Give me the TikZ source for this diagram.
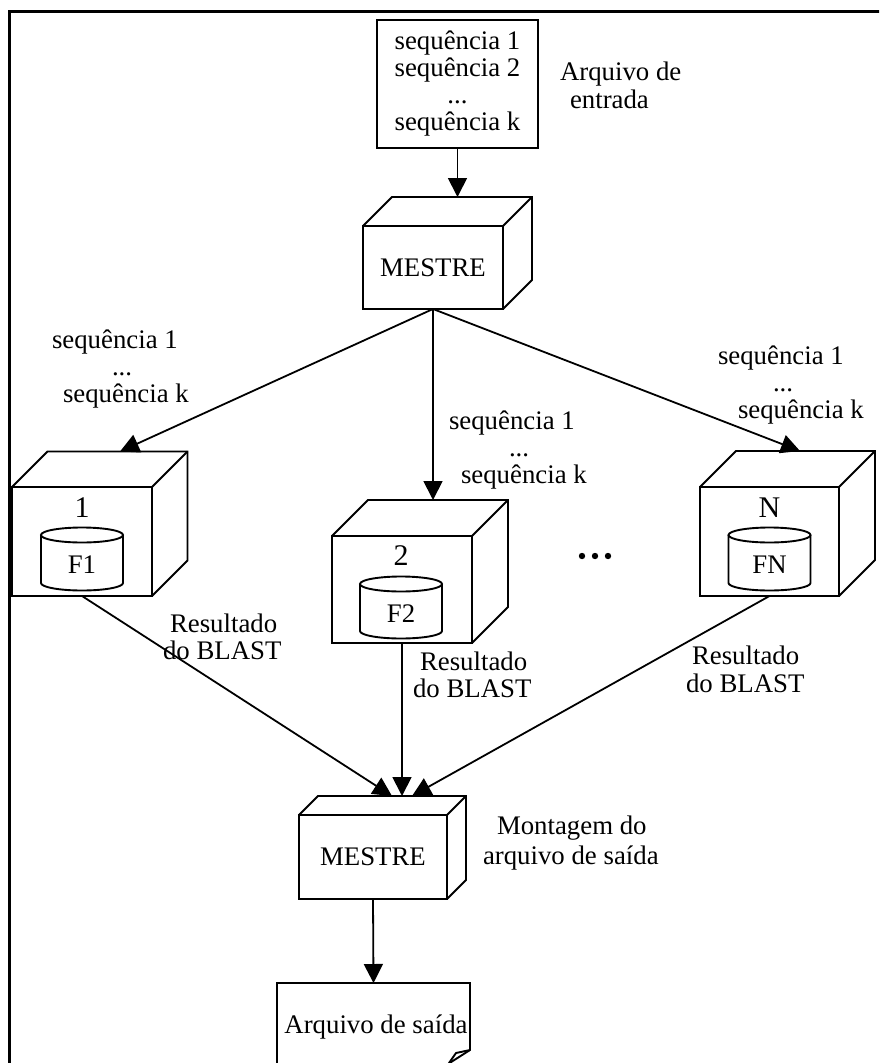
\documentclass[tikz,border=0pt]{standalone}
\usepackage{fontspec}
\setmainfont{Liberation Serif}
\usetikzlibrary{arrows.meta}

% back edges of a box drawn as a cube: #1 front face node, #2 depth
\newcommand\cubedepth[2]{%
  \draw[edge] (#1.north west) -- ++(#2,-#2) -- ([shift={(#2,-#2)}]#1.north east)
    -- ([shift={(#2,-#2)}]#1.south east) -- (#1.south east);
  \draw[edge] (#1.north east) -- ++(#2,-#2);}

% database drum: #1 centre x, #2 top cap y, #3 bottom cap y
\newcommand\drum[3]{%
  \draw[edge, fill=white] (#1-41,#2) -- (#1-41,#3)
    arc[start angle=180, end angle=0, x radius=41, y radius=7.5] -- (#1+41,#2);
  \draw[edge] (#1,#2) ellipse[x radius=41, y radius=7.5];}

\begin{document}
\begin{tikzpicture}[x=1pt, y=-1pt,
  every node/.style={font=\fontsize{26.8}{27}\selectfont, inner sep=0pt, outer sep=0pt},
  face/.style={draw, line width=1.9pt, fill=white, align=center},
  edge/.style={line width=1.9pt, line join=miter},
  arr/.style={line width=1.8pt, -{Triangle[length=19pt, width=19pt]}},
  txt/.style={anchor=base west},
  num/.style={anchor=base, font=\fontsize{30}{30}\selectfont},
  dbl/.style={anchor=base},
]
\useasboundingbox (0,0) rectangle (879,1063);
\clip (0,0) rectangle (879,1063);

% outer frame
\draw[line width=3pt] (9,1090) -- (9,11) -- (900,11);

% input file
\node[face, minimum width=161pt, minimum height=128pt] (src) at (457.5,84)
  {sequência 1\\sequência 2\\...\\sequência k};
\node[txt] (srcA) at (560,80) {Arquivo de};
\node[txt] (srcB) at (570,108) {entrada};

% master node
\node[face, minimum width=140pt, minimum height=83pt] (m1) at (433,267.5) {MESTRE};
\cubedepth{m1}{29}
\coordinate (m1top) at (457.5,197);
\draw[arr] (src.south) -- (m1top);

% worker 1
\node[face, minimum width=140pt, minimum height=109pt] (w1) at (82,541.5) {};
\cubedepth{w1}{35.5}
\node[num] (n1) at (82,517) {1};
\drum{82}{535}{583}
\node[dbl] (f1) at (82,573) {F1};

% worker 2
\node[face, minimum width=140pt, minimum height=107pt] (w2) at (402,589.5) {};
\cubedepth{w2}{36}
\node[num] (n2) at (401,565) {2};
\drum{401}{584}{631}
\node[dbl] (f2) at (401,622) {F2};

% worker N
\node[face, minimum width=139pt, minimum height=109pt] (wn) at (769.5,541.5) {};
\cubedepth{wn}{36}
\node[num] (nn) at (769.5,517) {N};
\drum{769.5}{535}{583}
\node[dbl] (fn) at (769.5,573) {FN};

% ellipsis between workers
\fill (582,556) circle[radius=3.2];
\fill (595,556) circle[radius=3.2];
\fill (608,556) circle[radius=3.2];

% distribution of sequences
\coordinate (w1top) at (120,451.5);
\coordinate (w2top) at (433,500);
\coordinate (wntop) at (800,451);
\draw[arr] (m1.south) -- (w1top);
\draw[arr] (m1.south) -- (w2top);
\draw[arr] (m1.south) -- (wntop);

\node[txt] (sa1) at (52,348) {sequência 1};
\node[txt] (sa2) at (112,375) {...};
\node[txt] (sa3) at (63,402) {sequência k};
\node[txt] (sb1) at (449,429) {sequência 1};
\node[txt] (sb2) at (509,456) {...};
\node[txt] (sb3) at (461,483) {sequência k};
\node[txt] (sc1) at (718,364) {sequência 1};
\node[txt] (sc2) at (773,391) {...};
\node[txt] (sc3) at (738,418) {sequência k};

% master collecting results
\node[face, minimum width=148pt, minimum height=84pt] (m2) at (373,857) {MESTRE};
\cubedepth{m2}{19}
\coordinate (m2a) at (392,796);
\coordinate (m2b) at (402,796);
\coordinate (m2c) at (412,796);
\draw[arr] (w1.south) -- (m2a);
\draw[arr] (w2.south) -- (m2b);
\draw[arr] (wn.south) -- (m2c);

\node[txt] (ra1) at (170,632) {Resultado};
\node[txt] (ra2) at (163,659) {do BLAST};
\node[txt] (rb1) at (420,670) {Resultado};
\node[txt] (rb2) at (413,697) {do BLAST};
\node[txt] (rc1) at (692,664) {Resultado};
\node[txt] (rc2) at (686,692) {do BLAST};

\node[txt] (mA) at (497,834) {Montagem do};
\node[txt] (mB) at (483,864) {arquivo de saída};

% output file with folded corner
\node[minimum width=193pt, minimum height=94pt] (out) at (373.5,1030) {};
\node[dbl] (outT) at (376,1033) {Arquivo de saída};
\draw[edge] (277,1080) -- (277,983) -- (470,983) -- (470,1050) -- (448,1064);
\draw[edge, line join=round] (470,1050) -- (456,1053) -- (449,1063);
\draw[arr] (m2.south) -- (out.north);
\end{tikzpicture}
\end{document}
